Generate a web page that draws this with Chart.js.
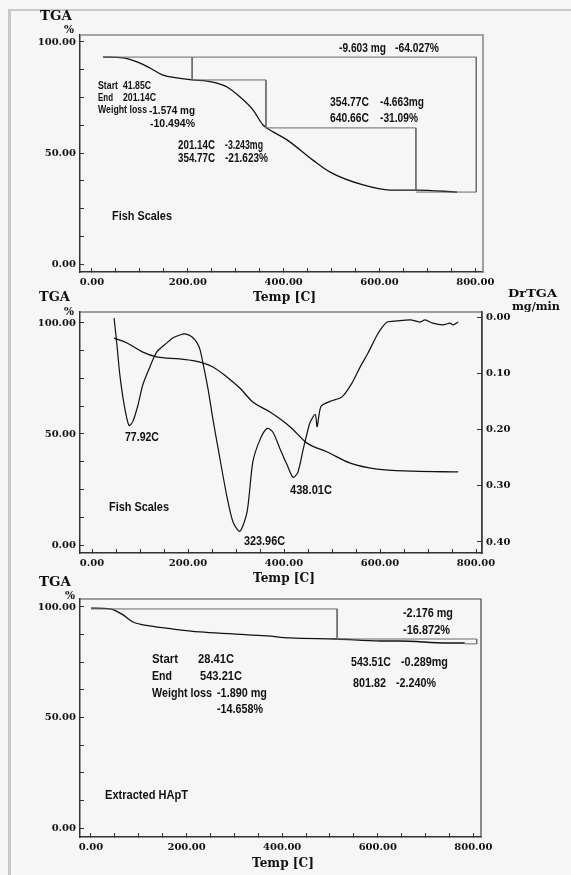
<!DOCTYPE html>
<html><head><meta charset="utf-8">
<script src="https://cdn.jsdelivr.net/npm/chart.js@4/dist/chart.umd.min.js"></script>
<style>
html,body{margin:0;padding:0;background:#f6f6f6;}
body{width:571px;height:875px;position:relative;overflow:hidden;}
#frame{position:absolute;left:8px;top:9px;width:600px;height:900px;border-left:3px solid #c8c8c8;border-top:2px solid #c8c8c8;}
canvas{position:absolute;left:0;top:0;}
.t{position:absolute;white-space:nowrap;font-family:"Liberation Sans",Arial,sans-serif;font-weight:bold;color:#111;transform-origin:0 50%;line-height:1;}
.s{position:absolute;white-space:nowrap;font-family:"DejaVu Serif",serif;font-weight:bold;color:#111;transform-origin:0 50%;line-height:1;}
</style></head><body>
<div id="frame"></div>
<canvas id="c1" width="571" height="875"></canvas>
<canvas id="c2" width="571" height="875"></canvas>
<canvas id="c3" width="571" height="875"></canvas>
<script>
// ---- tick values ----
const xTicks = [0,50,100,150,200,250,300,350,400,450,500,550,600,650,700,750,800];
const xLabeled = [0,200,400,600,800];
const yTicks = [0,12.5,25,37.5,50,62.5,75,87.5,100];
const yLabeled = [0,50,100];
const drTicks = [0,0.1,0.2,0.3,0.4];

// ---- panel 1: Fish Scales TGA with step analysis ----
const fishTemp = [23,65,94,121,148,177,209,240,261,282,309,336,357,378,407,461,497,566,622,676,762];
const fishTGA  = [93.2,92.8,91.0,88.3,85.1,83.8,82.9,82.4,81.5,79.7,75.2,69.4,62.6,59.5,55.9,46.8,41.4,35.6,33.3,33.3,32.4];
const frame1Temp  = [23,802,802,676];
const frame1Level = [93.2,93.2,32.4,32.4];
const step1Temp   = [209,209,363,363,676,676];
const step1Level  = [93.2,82.9,82.9,61.3,61.3,33.3];

// ---- panel 2: Fish Scales TGA + DrTGA ----
const tga2Temp = [46,73,106,135,183,225,252,281,308,335,371,413,448,490,538,594,669,763];
const tga2     = [93.2,91.0,86.9,84.7,83.8,82.4,80.2,75.7,70.7,64.4,59.9,53.2,45.9,41.9,36.9,34.2,33.3,32.9];
const drTemp = [46,52,58,67,77,85,96,106,121,135,156,169,183,194,208,219,225,231,242,252,263,281,294,308,323,335,350,365,377,392,406,419,429,440,450,454,465,469,477,496,521,542,558,575,594,604,615,635,663,683,694,710,731,746,752,763];
const drRate = [0.002,0.050,0.103,0.156,0.193,0.186,0.156,0.120,0.088,0.062,0.046,0.037,0.032,0.030,0.035,0.046,0.058,0.081,0.129,0.182,0.235,0.319,0.365,0.381,0.347,0.258,0.218,0.198,0.205,0.235,0.262,0.285,0.276,0.235,0.200,0.188,0.173,0.195,0.159,0.150,0.142,0.117,0.090,0.064,0.032,0.019,0.009,0.007,0.005,0.009,0.005,0.011,0.014,0.011,0.014,0.009];

// ---- panel 3: Extracted HApT ----
const tga3Temp = [0,40,67,88,123,172,228,297,368,416,515,605,646,745,782];
const tga3     = [99.5,99.1,96.4,93.2,91.4,90.0,88.7,87.8,86.9,86.0,85.5,84.6,84.6,83.7,83.7];
const step3Temp  = [0,515,515];
const step3Level = [99.1,99.1,85.5];
const frame3Temp  = [515,807,807,782];
const frame3Level = [85.5,85.5,83.3,83.3];

const pts = (xs, ys) => xs.map((x, i) => ({x: x, y: ys[i]}));

const tickFont = {family: '"DejaVu Serif", serif', weight: 'bold', size: 10};

function xScale(min, max) {
  return {
    type: 'linear', position: 'bottom', min: min, max: max,
    afterBuildTicks: s => { s.ticks = xTicks.map(v => ({value: v})); },
    afterFit: s => { s.height = 20; },
    ticks: {autoSkip: false, maxRotation: 0, padding: 8, color: '#111', font: tickFont,
      callback: v => xLabeled.includes(v) ? v.toFixed(2) : ''},
    grid: {drawOnChartArea: false, tickLength: -4, color: '#333', tickWidth: 1},
    border: {color: '#333', width: 1.5}
  };
}
function yScale(min, max) {
  return {
    type: 'linear', position: 'left', min: min, max: max,
    afterBuildTicks: s => { s.ticks = yTicks.map(v => ({value: v})); },
    afterFit: s => { s.width = 80; },
    ticks: {autoSkip: false, padding: 8, color: '#111', font: tickFont,
      callback: v => yLabeled.includes(v) ? v.toFixed(2) : ''},
    grid: {drawOnChartArea: false, tickLength: -4, color: '#333', tickWidth: 1},
    border: {color: '#333', width: 1.5}
  };
}

const framePlugin = {
  id: 'boxframe',
  beforeDatasetsDraw(chart, args, opts) {
    const {ctx, chartArea: {left, right, top, bottom}} = chart;
    ctx.save();
    ctx.strokeStyle = opts.color || '#444';
    ctx.lineWidth = opts.width || 1.2;
    ctx.beginPath();
    ctx.moveTo(left, top); ctx.lineTo(right, top); ctx.lineTo(right, bottom);
    ctx.stroke();
    ctx.restore();
  }
};

const curve = (data, yAxis) => ({data: data, yAxisID: yAxis || 'y', borderColor: '#111', borderWidth: 1.3, pointRadius: 0, tension: 0.3, cubicInterpolationMode: 'monotone', fill: false});
const guide = (data) => ({data: data, borderColor: '#6a6a6a', borderWidth: 1, pointRadius: 0, tension: 0, fill: false});

function baseOpts(pad, scales, frame) {
  return {
    responsive: false, animation: false, events: [],
    layout: {padding: pad},
    plugins: {legend: {display: false}, tooltip: {enabled: false}, boxframe: frame},
    scales: scales
  };
}

new Chart(document.getElementById('c1'), {
  type: 'line',
  data: {datasets: [guide(pts(frame1Temp, frame1Level)), guide(pts(step1Temp, step1Level)), curve(pts(fishTemp, fishTGA))]},
  options: baseOpts({top: 35, right: 88, bottom: 583, left: 0},
    {x: xScale(-25, 816), y: yScale(-3.6, 103.15)}, {color: '#8a8a8a', width: 1.6}),
  plugins: [framePlugin]
});

const dr = curve(pts(drTemp, drRate), 'y2');
dr.cubicInterpolationMode = 'default'; dr.tension = 0.25; dr.borderWidth = 1.2;
new Chart(document.getElementById('c2'), {
  type: 'line',
  data: {datasets: [curve(pts(tga2Temp, tga2)), dr]},
  options: baseOpts({top: 312, right: 0, bottom: 302, left: 0},
    {x: xScale(-25, 812.5), y: yScale(-3.6, 104.95),
     y2: {type: 'linear', position: 'right', reverse: true, min: -0.0089, max: 0.4196,
       afterBuildTicks: s => { s.ticks = drTicks.map(v => ({value: v})); },
       afterFit: s => { s.width = 89; },
       ticks: {padding: 9, color: '#111', font: tickFont, callback: v => v.toFixed(2)},
       grid: {drawOnChartArea: false, tickLength: -5, color: '#333'},
       border: {color: '#333', width: 1.5}}},
    {color: '#444', width: 1.2}),
  plugins: [framePlugin]
});

new Chart(document.getElementById('c3'), {
  type: 'line',
  data: {datasets: [guide(pts(step3Temp, step3Level)), guide(pts(frame3Temp, frame3Level)), curve(pts(tga3Temp, tga3))]},
  options: baseOpts({top: 599, right: 90, bottom: 18, left: 0},
    {x: xScale(-23, 816), y: yScale(-4.07, 103.6)}, {color: '#444', width: 1.2}),
  plugins: [framePlugin]
});

// ---- text labels: [text, left, centerY, width, fontSize] ----
const notes = [
  ['-9.603 mg',339,48,47,12],['-64.027%',395,48,44,12],
  ['354.77C',330,102,39,12],['-4.663mg',380,102,44,12],
  ['640.66C',330,118,39,12],['-31.09%',380,118,38,12],
  ['Start',98,86,20,10],['41.85C',123,86,28,10],
  ['End',98,98,15,10],['201.14C',123,98,33,10],
  ['Weight loss',98,110,49,10],['-1.574 mg',149,110,46,11],
  ['-10.494%',150,123,45,11],
  ['201.14C',178,145,37,12],['-3.243mg',225,145,38,12],
  ['354.77C',178,158,37,12],['-21.623%',225,158,43,12],
  ['Fish Scales',112,216,60,12],
  ['77.92C',125,437,34,12],['323.96C',244,541,41,12],['438.01C',290,490,42,12],
  ['Fish Scales',109,507,60,12],
  ['-2.176 mg',403,613,50,12],['-16.872%',403,630,47,12],
  ['543.51C',351,662,40,12],['-0.289mg',401,662,47,12],
  ['801.82',353,683,33,12],['-2.240%',396,683,40,12],
  ['Start',152,659,26,12],['28.41C',198,659,36,12],
  ['End',152,676,20,12],['543.21C',200,676,42,12],
  ['Weight loss',152,693,60,12],['-1.890 mg',217,693,50,12],
  ['-14.658%',217,709,46,12],
  ['Extracted HApT',105,795,83,12]
];
const titles = [
  ['TGA',40,16,32,12],['%',64,29,10,11],['Temp [C]',253,297,63,12],
  ['TGA',39,297,31,12],['%',64,311,10,11],['DrTGA',508,293,49,11],['mg/min',512,306,48,11],
  ['Temp [C]',253,578,62,12],
  ['TGA',39,582,32,12],['%',65,595,10,11],['Temp [C]',252,863,62,12]
];
function place(list, cls) {
  list.forEach(a => {
    const d = document.createElement('div');
    d.className = cls; d.textContent = a[0];
    d.style.fontSize = a[4] + 'px';
    document.body.appendChild(d);
    const w = d.getBoundingClientRect().width;
    d.style.left = a[1] + 'px';
    d.style.top = (a[2] - a[4] / 2) + 'px';
    d.style.transform = 'scaleX(' + (a[3] / w).toFixed(3) + ')';
  });
}
place(notes, 't');
place(titles, 's');
</script>
</body></html>
